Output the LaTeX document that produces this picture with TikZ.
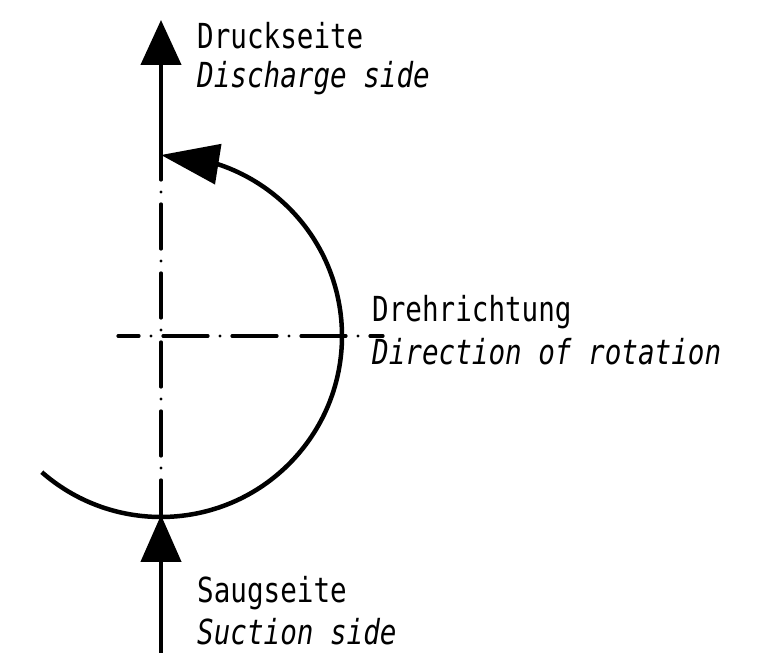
\documentclass[tikz,border=0pt]{standalone}
\usepackage{fontspec}
\setmainfont{DejaVu Sans Mono}[FakeStretch=0.80]
\usetikzlibrary{arrows.meta,bending}

\tikzset{
    mainline/.style={line width=4.5pt},
    centerline/.style={line width=3.2pt, line cap=round,
        dash pattern=on 45pt off 12pt on 0pt off 12pt},
    labeltext/.style={anchor=base west, inner sep=0pt,
        font=\fontsize{34.5}{40}\selectfont},
}

\begin{document}
\begin{tikzpicture}[x=1pt, y=1pt, >={Triangle[length=45pt, width=40pt]}]
            \useasboundingbox (0,0) rectangle (766,653);

            % ==== POINTS ====
            \coordinate (center) at (161,317);
            \coordinate (arctop) at (161,498);
            \coordinate (arcbot) at (161,138);
            \coordinate (toptip) at (161,633);
            \coordinate (botend) at (161,-3);
            \coordinate (hleft) at (118,317);
            \coordinate (hright) at (383,317);

            % ==== CENTER LINES ====
            \draw[centerline, dash phase=20pt] (arctop) -- (arcbot);
            \draw[centerline, dash phase=24pt] (hleft) -- (hright);

            % ==== FLOW ARROWS ====
            \draw[mainline, ->] (arctop) -- (toptip);
            \draw[mainline, -{Triangle[length=47pt, width=40pt]}] (botend) -- (arcbot);

            % ==== DIRECTION OF ROTATION ====
            \draw[mainline, -{Triangle[length=58pt, width=40pt]}]
                ([shift={(228.8:181)}]center) arc (228.8:450:181);

            % ==== LABELS ====
            \node[labeltext] (druck) at (197,604) {Druckseite};
            \node[labeltext] (discharge) at (197,565) {\itshape Discharge side};
            \node[labeltext] (dreh) at (372,331) {Drehrichtung};
            \node[labeltext] (direction) at (372,288) {\itshape Direction of rotation};
            \node[labeltext] (saug) at (197,50) {Saugseite};
            \node[labeltext] (suction) at (197,8) {\itshape Suction side};
        \end{tikzpicture}
\end{document}
